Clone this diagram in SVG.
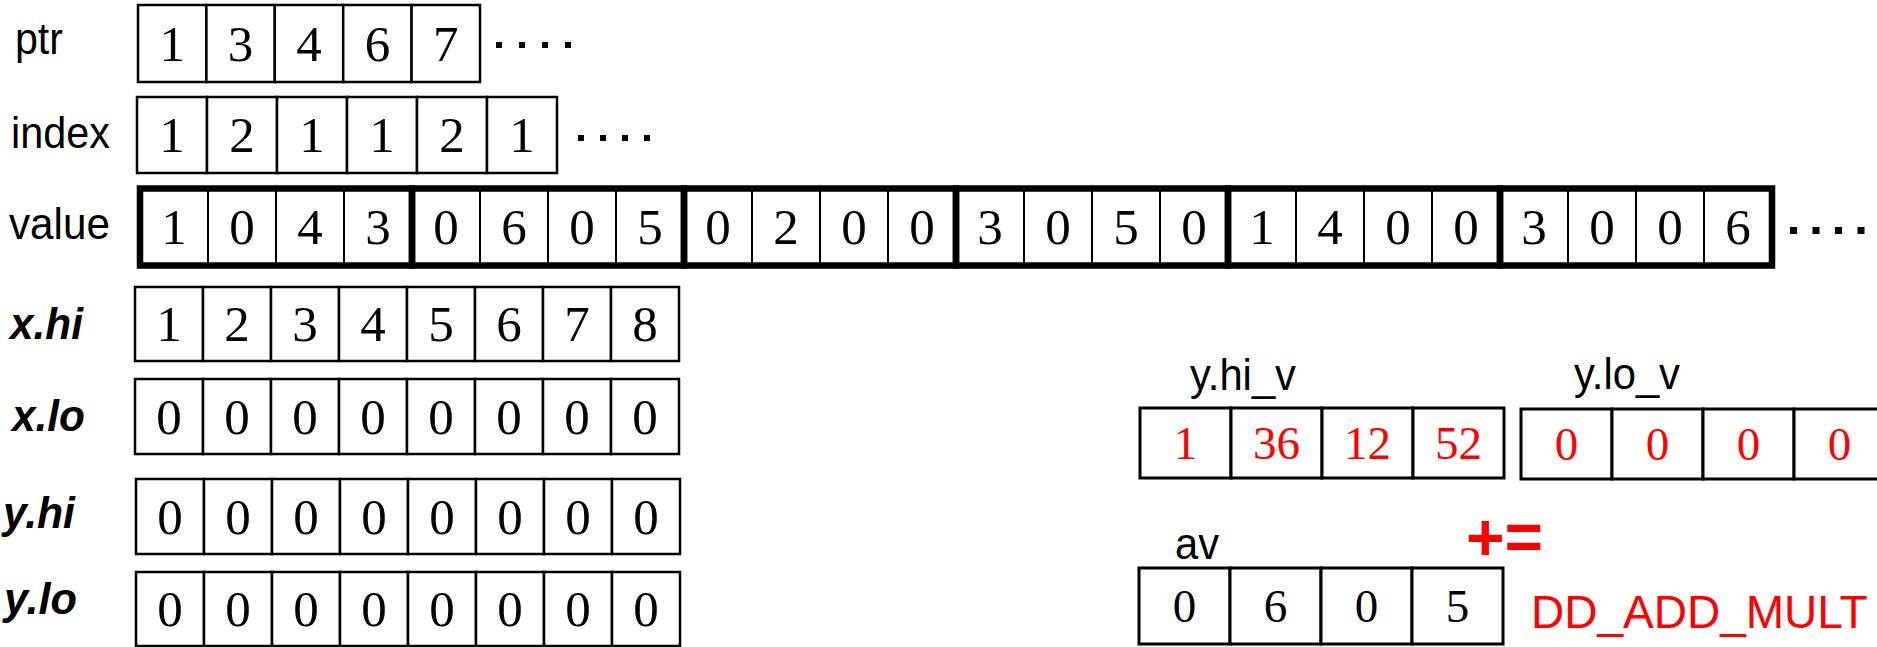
<svg xmlns="http://www.w3.org/2000/svg" width="1877" height="647" viewBox="0 0 1877 647">
<style>
.c{fill:#fff;stroke:#000;stroke-width:2.5}
.cr{fill:#fff;stroke:#000;stroke-width:3}
.thin{stroke:#000;stroke-width:2}
.thick{fill:none;stroke:#000;stroke-width:6.5}
.n{font-family:"Liberation Serif","Times New Roman",serif;font-size:51px;text-anchor:middle;fill:#000}
.m{font-family:"Liberation Serif","Times New Roman",serif;font-size:47px;text-anchor:middle;fill:#000}
.red{fill:#f00}
.l{font-family:"Liberation Sans",Arial,sans-serif;font-size:45px;fill:#000}
.bi{font-weight:bold;font-style:italic}
.dot{fill:#000}
</style>
<rect width="1877" height="647" fill="#fff"/>

<g id="ptr">
<text class="l" x="15" y="54" textLength="48" lengthAdjust="spacingAndGlyphs">ptr</text>
<rect class="c" x="138" y="5" width="68.4" height="77"/>
<rect class="c" x="206.4" y="5" width="68.4" height="77"/>
<rect class="c" x="274.8" y="5" width="68.4" height="77"/>
<rect class="c" x="343.2" y="5" width="68.4" height="77"/>
<rect class="c" x="411.6" y="5" width="68.4" height="77"/>
<text class="n" x="172.2" y="61">1</text>
<text class="n" x="240.6" y="61">3</text>
<text class="n" x="309" y="61">4</text>
<text class="n" x="377.4" y="61">6</text>
<text class="n" x="445.8" y="61">7</text>
<rect class="dot" x="496" y="42" width="6" height="6"/>
<rect class="dot" x="519" y="42" width="6" height="6"/>
<rect class="dot" x="542" y="42" width="6" height="6"/>
<rect class="dot" x="565" y="42" width="6" height="6"/>
</g>

<g id="index">
<text class="l" x="11" y="148" textLength="99" lengthAdjust="spacingAndGlyphs">index</text>
<rect class="c" x="137" y="97" width="70" height="76"/>
<rect class="c" x="207" y="97" width="70" height="76"/>
<rect class="c" x="277" y="97" width="70" height="76"/>
<rect class="c" x="347" y="97" width="70" height="76"/>
<rect class="c" x="417" y="97" width="70" height="76"/>
<rect class="c" x="487" y="97" width="70" height="76"/>
<text class="n" x="172" y="152">1</text>
<text class="n" x="242" y="152">2</text>
<text class="n" x="312" y="152">1</text>
<text class="n" x="382" y="152">1</text>
<text class="n" x="452" y="152">2</text>
<text class="n" x="522" y="152">1</text>
<rect class="dot" x="578" y="135" width="6" height="6"/>
<rect class="dot" x="600" y="135" width="6" height="6"/>
<rect class="dot" x="622" y="135" width="6" height="6"/>
<rect class="dot" x="644" y="135" width="6" height="6"/>
</g>

<g id="value">
<text class="l" x="9" y="239" textLength="101" lengthAdjust="spacingAndGlyphs">value</text>
<rect x="140" y="188" width="1632" height="78" fill="#fff"/>
<g class="thin">
<line x1="208" y1="188" x2="208" y2="266"/>
<line x1="276" y1="188" x2="276" y2="266"/>
<line x1="344" y1="188" x2="344" y2="266"/>
<line x1="480" y1="188" x2="480" y2="266"/>
<line x1="548" y1="188" x2="548" y2="266"/>
<line x1="616" y1="188" x2="616" y2="266"/>
<line x1="752" y1="188" x2="752" y2="266"/>
<line x1="820" y1="188" x2="820" y2="266"/>
<line x1="888" y1="188" x2="888" y2="266"/>
<line x1="1024" y1="188" x2="1024" y2="266"/>
<line x1="1092" y1="188" x2="1092" y2="266"/>
<line x1="1160" y1="188" x2="1160" y2="266"/>
<line x1="1296" y1="188" x2="1296" y2="266"/>
<line x1="1364" y1="188" x2="1364" y2="266"/>
<line x1="1432" y1="188" x2="1432" y2="266"/>
<line x1="1568" y1="188" x2="1568" y2="266"/>
<line x1="1636" y1="188" x2="1636" y2="266"/>
<line x1="1704" y1="188" x2="1704" y2="266"/>
</g>
<rect class="thick" x="140" y="188.5" width="272" height="77"/>
<rect class="thick" x="412" y="188.5" width="272" height="77"/>
<rect class="thick" x="684" y="188.5" width="272" height="77"/>
<rect class="thick" x="956" y="188.5" width="272" height="77"/>
<rect class="thick" x="1228" y="188.5" width="272" height="77"/>
<rect class="thick" x="1500" y="188.5" width="272" height="77"/>
<text class="n" x="174" y="244">1</text>
<text class="n" x="242" y="244">0</text>
<text class="n" x="310" y="244">4</text>
<text class="n" x="378" y="244">3</text>
<text class="n" x="446" y="244">0</text>
<text class="n" x="514" y="244">6</text>
<text class="n" x="582" y="244">0</text>
<text class="n" x="650" y="244">5</text>
<text class="n" x="718" y="244">0</text>
<text class="n" x="786" y="244">2</text>
<text class="n" x="854" y="244">0</text>
<text class="n" x="922" y="244">0</text>
<text class="n" x="990" y="244">3</text>
<text class="n" x="1058" y="244">0</text>
<text class="n" x="1126" y="244">5</text>
<text class="n" x="1194" y="244">0</text>
<text class="n" x="1262" y="244">1</text>
<text class="n" x="1330" y="244">4</text>
<text class="n" x="1398" y="244">0</text>
<text class="n" x="1466" y="244">0</text>
<text class="n" x="1534" y="244">3</text>
<text class="n" x="1602" y="244">0</text>
<text class="n" x="1670" y="244">0</text>
<text class="n" x="1738" y="244">6</text>
<rect class="dot" x="1790" y="227" width="7" height="7"/>
<rect class="dot" x="1812.5" y="227" width="7" height="7"/>
<rect class="dot" x="1835" y="227" width="7" height="7"/>
<rect class="dot" x="1857.5" y="227" width="7" height="7"/>
</g>

<g id="x_hi">
<text class="l bi" x="10" y="339" textLength="73" lengthAdjust="spacingAndGlyphs">x.hi</text>
<rect class="c" x="135" y="287" width="68" height="74"/>
<rect class="c" x="203" y="287" width="68" height="74"/>
<rect class="c" x="271" y="287" width="68" height="74"/>
<rect class="c" x="339" y="287" width="68" height="74"/>
<rect class="c" x="407" y="287" width="68" height="74"/>
<rect class="c" x="475" y="287" width="68" height="74"/>
<rect class="c" x="543" y="287" width="68" height="74"/>
<rect class="c" x="611" y="287" width="68" height="74"/>
<text class="n" x="169" y="341">1</text>
<text class="n" x="237" y="341">2</text>
<text class="n" x="305" y="341">3</text>
<text class="n" x="373" y="341">4</text>
<text class="n" x="441" y="341">5</text>
<text class="n" x="509" y="341">6</text>
<text class="n" x="577" y="341">7</text>
<text class="n" x="645" y="341">8</text>
</g>

<g id="x_lo">
<text class="l bi" x="12" y="431" textLength="73" lengthAdjust="spacingAndGlyphs">x.lo</text>
<rect class="c" x="135" y="379" width="68" height="75"/>
<rect class="c" x="203" y="379" width="68" height="75"/>
<rect class="c" x="271" y="379" width="68" height="75"/>
<rect class="c" x="339" y="379" width="68" height="75"/>
<rect class="c" x="407" y="379" width="68" height="75"/>
<rect class="c" x="475" y="379" width="68" height="75"/>
<rect class="c" x="543" y="379" width="68" height="75"/>
<rect class="c" x="611" y="379" width="68" height="75"/>
<text class="n" x="169" y="434">0</text>
<text class="n" x="237" y="434">0</text>
<text class="n" x="305" y="434">0</text>
<text class="n" x="373" y="434">0</text>
<text class="n" x="441" y="434">0</text>
<text class="n" x="509" y="434">0</text>
<text class="n" x="577" y="434">0</text>
<text class="n" x="645" y="434">0</text>
</g>

<g id="y_hi">
<text class="l bi" x="3" y="528" textLength="72" lengthAdjust="spacingAndGlyphs">y.hi</text>
<rect class="c" x="136" y="479" width="68" height="75"/>
<rect class="c" x="204" y="479" width="68" height="75"/>
<rect class="c" x="272" y="479" width="68" height="75"/>
<rect class="c" x="340" y="479" width="68" height="75"/>
<rect class="c" x="408" y="479" width="68" height="75"/>
<rect class="c" x="476" y="479" width="68" height="75"/>
<rect class="c" x="544" y="479" width="68" height="75"/>
<rect class="c" x="612" y="479" width="68" height="75"/>
<text class="n" x="170" y="534">0</text>
<text class="n" x="238" y="534">0</text>
<text class="n" x="306" y="534">0</text>
<text class="n" x="374" y="534">0</text>
<text class="n" x="442" y="534">0</text>
<text class="n" x="510" y="534">0</text>
<text class="n" x="578" y="534">0</text>
<text class="n" x="646" y="534">0</text>
</g>

<g id="y_lo">
<text class="l bi" x="4" y="614" textLength="73" lengthAdjust="spacingAndGlyphs">y.lo</text>
<rect class="c" x="136" y="572" width="68" height="74"/>
<rect class="c" x="204" y="572" width="68" height="74"/>
<rect class="c" x="272" y="572" width="68" height="74"/>
<rect class="c" x="340" y="572" width="68" height="74"/>
<rect class="c" x="408" y="572" width="68" height="74"/>
<rect class="c" x="476" y="572" width="68" height="74"/>
<rect class="c" x="544" y="572" width="68" height="74"/>
<rect class="c" x="612" y="572" width="68" height="74"/>
<text class="n" x="170" y="626">0</text>
<text class="n" x="238" y="626">0</text>
<text class="n" x="306" y="626">0</text>
<text class="n" x="374" y="626">0</text>
<text class="n" x="442" y="626">0</text>
<text class="n" x="510" y="626">0</text>
<text class="n" x="578" y="626">0</text>
<text class="n" x="646" y="626">0</text>
</g>

<g id="y_hi_v">
<text class="l" x="1190" y="390" textLength="106" lengthAdjust="spacingAndGlyphs">y.hi_v</text>
<rect class="cr" x="1140" y="408" width="91" height="70"/>
<rect class="cr" x="1231" y="408" width="91" height="70"/>
<rect class="cr" x="1322" y="408" width="91" height="70"/>
<rect class="cr" x="1413" y="408" width="91" height="70"/>
<text class="m red" x="1185.5" y="459">1</text>
<text class="m red" x="1276.5" y="459">36</text>
<text class="m red" x="1367.5" y="459">12</text>
<text class="m red" x="1458.5" y="459">52</text>
</g>

<g id="y_lo_v">
<text class="l" x="1574" y="389" textLength="106" lengthAdjust="spacingAndGlyphs">y.lo_v</text>
<rect class="cr" x="1521" y="409" width="91" height="70"/>
<rect class="cr" x="1612" y="409" width="91" height="70"/>
<rect class="cr" x="1703" y="409" width="91" height="70"/>
<rect class="cr" x="1794" y="409" width="91" height="70"/>
<text class="m red" x="1566.5" y="460">0</text>
<text class="m red" x="1657.5" y="460">0</text>
<text class="m red" x="1748.5" y="460">0</text>
<text class="m red" x="1839.5" y="460">0</text>
</g>

<g id="av">
<text class="l" x="1175" y="559" textLength="44" lengthAdjust="spacingAndGlyphs">av</text>
<rect class="cr" x="1139" y="568" width="91" height="76"/>
<rect class="cr" x="1230" y="568" width="91" height="76"/>
<rect class="cr" x="1321" y="568" width="91" height="76"/>
<rect class="cr" x="1412" y="568" width="91" height="76"/>
<text class="m" x="1184.5" y="622">0</text>
<text class="m" x="1275.5" y="622">6</text>
<text class="m" x="1366.5" y="622">0</text>
<text class="m" x="1457.5" y="622">5</text>
</g>

<g id="op">
<text x="1466" y="560" style="font-family:'Liberation Sans',Arial,sans-serif;font-size:66px;font-weight:bold;fill:#f00">+=</text>
<text x="1531" y="628" style="font-family:'Liberation Sans',Arial,sans-serif;font-size:46px;fill:#f00">DD_ADD_MULT</text>
</g>
</svg>
